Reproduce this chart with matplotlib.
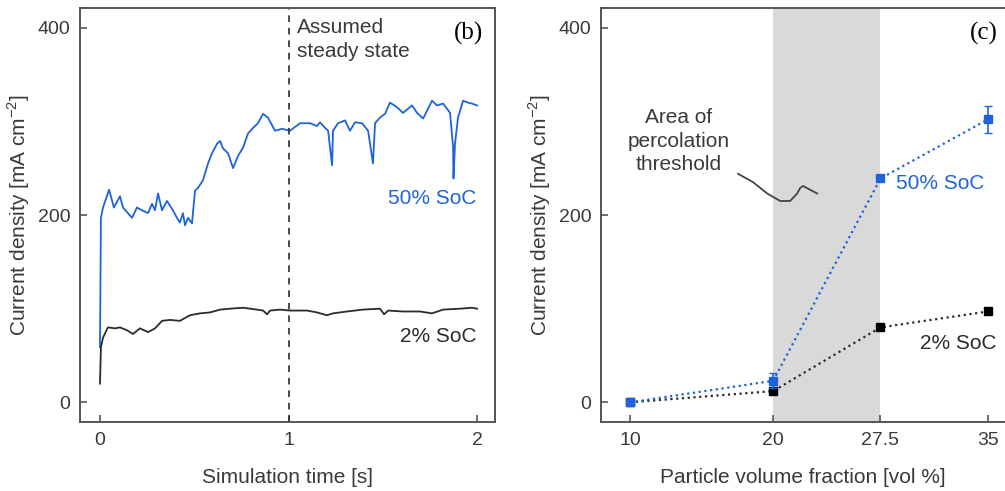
import matplotlib
matplotlib.use("Agg")
import matplotlib.pyplot as plt

plt.rcParams['font.family'] = ['Liberation Sans', 'DejaVu Sans']

# ---- panel (b): current density vs simulation time ----
t_50 = [0.0, 0.005, 0.016, 0.048, 0.074, 0.106, 0.122, 0.170, 0.196, 0.223, 0.255,
        0.276, 0.292, 0.308, 0.329, 0.355, 0.371, 0.387, 0.408, 0.424, 0.440,
        0.451, 0.467, 0.488, 0.504, 0.520, 0.546, 0.573, 0.594, 0.621, 0.637,
        0.653, 0.679, 0.706, 0.732, 0.759, 0.785, 0.812, 0.838, 0.865, 0.891,
        0.928, 0.966, 1.008, 1.061, 1.114, 1.151, 1.167, 1.194, 1.210, 1.231,
        1.236, 1.263, 1.300, 1.326, 1.353, 1.390, 1.422, 1.448, 1.459, 1.485,
        1.512, 1.538, 1.576, 1.607, 1.655, 1.682, 1.714, 1.761, 1.788, 1.820,
        1.857, 1.873, 1.875, 1.883, 1.899, 1.926, 1.952, 1.973, 2.000]
j_50 = [59, 197, 208, 227, 208, 220, 208, 197, 208, 205, 202,
        212, 205, 223, 205, 215, 210, 205, 197, 192, 202,
        189, 197, 191, 226, 229, 237, 255, 266, 276, 279,
        271, 266, 250, 263, 272, 287, 293, 298, 308, 304,
        290, 292, 290, 298, 298, 295, 299, 293, 290, 253,
        290, 298, 301, 290, 299, 298, 290, 255, 298, 304,
        308, 320, 315, 309, 317, 309, 303, 322, 317, 319,
        309, 272, 239, 276, 304, 322, 320, 319, 317]

t_2 = [0.0, 0.005, 0.016, 0.042, 0.080, 0.106, 0.143, 0.175, 0.212, 0.255,
       0.292, 0.329, 0.371, 0.424, 0.477, 0.531, 0.584, 0.637, 0.690, 0.759,
       0.833, 0.865, 0.886, 0.902, 0.955, 1.008, 1.098, 1.151, 1.204, 1.236,
       1.310, 1.395, 1.485, 1.507, 1.528, 1.607, 1.698, 1.761, 1.820, 1.910,
       1.973, 2.000]
j_2 = [20, 59, 69, 80, 79, 80, 77, 73, 79, 75,
       79, 87, 88, 87, 93, 95, 96, 99, 100, 101,
       99, 98, 94, 98, 99, 98, 98, 96, 93, 95,
       97, 99, 100, 94, 98, 97, 97, 95, 99, 100,
       101, 100]

steady_state_t = 1.0

# ---- panel (c): current density vs particle volume fraction ----
vol_frac = [10, 20, 27.5, 35]
vol_ticks = ['10', '20', '27.5', '35']
j_soc50 = [0, 23, 239, 302]
err_soc50 = [2, 8, 3, 14]
j_soc2 = [0, 12, 80, 97]
percolation_band = (20, 27.5)

# squiggle pointing from the label into the shaded band
squig_x = [17.55, 18.6, 19.58, 20.49, 21.19, 21.68, 21.89, 22.1, 22.45, 23.08]
squig_y = [244, 235, 223, 215, 215, 223, 229, 231, 228, 223]

BLUE = '#1f63dc'
BLACK = '#2b2b2b'
TEXT = '#3a3a3a'
SPINE = '#555555'
FS = 15

fig = plt.figure(figsize=(10.05, 4.91), dpi=100)
ax1 = fig.add_axes([0.0796, 0.1405, 0.4129, 0.8432])
ax2 = fig.add_axes([0.598, 0.1405, 0.402, 0.8432])

ylabel = 'Current density [mA cm$^{\\mathregular{-2}}$]'

for ax in (ax1, ax2):
    ax.set_ylim(-21, 421)
    ax.set_yticks([0, 200, 400])
    for s in ax.spines.values():
        s.set_color(SPINE)
        s.set_linewidth(1.4)
    ax.tick_params(direction='in', length=5, width=1.2, color=SPINE,
                   labelsize=14, labelcolor=TEXT, pad=7)
    ax.tick_params(axis='x', pad=7)
    ax.set_ylabel(ylabel, fontsize=FS, color=TEXT, labelpad=4)

# panel (b)
ax1.set_xlim(-0.106, 2.095)
ax1.set_xticks([0, 1, 2])
ax1.plot(t_50, j_50, color=BLUE, lw=1.3)
ax1.plot(t_2, j_2, color=BLACK, lw=1.3)
ax1.axvline(steady_state_t, color=BLACK, lw=1.2, ls=(0, (4, 3.5)))
ax1.set_xlabel('Simulation time [s]', fontsize=FS, color=TEXT, labelpad=14)
ax1.text(1.045, 410, 'Assumed\nsteady state', fontsize=FS, color=TEXT,
         va='top', ha='left', linespacing=1.3)
ax1.text(2.032, 406, '(b)', family=['Liberation Serif'], fontsize=18,
         color='black', ha='right', va='top')
ax1.text(1.995, 218, '50% SoC', fontsize=FS, color=BLUE, ha='right', va='center')
ax1.text(1.995, 70, '2% SoC', fontsize=FS, color=BLACK, ha='right', va='center')

# panel (c)
ax2.set_xlim(7.97, 36.2)
ax2.set_xticks(vol_frac)
ax2.set_xticklabels(vol_ticks)
ax2.spines['right'].set_visible(False)
ax2.axvspan(*percolation_band, color='#d9d9d9', lw=0, zorder=0)
ax2.plot(vol_frac, j_soc2, color=BLACK, lw=1.6, ls=(0, (1, 1.6)),
         marker='s', ms=6, mfc='black', mec='black', zorder=3)
ax2.errorbar(vol_frac, j_soc50, yerr=err_soc50, color=BLUE, lw=1.6,
             ls=(0, (1, 1.6)), marker='s', ms=6, mfc=BLUE, mec=BLUE,
             ecolor=BLUE, elinewidth=1.2, capsize=3, zorder=4)
ax2.set_xlabel('Particle volume fraction [vol %]', fontsize=FS, color=TEXT,
               labelpad=14)
ax2.text(13.4, 314, 'Area of\npercolation\nthreshold', fontsize=FS,
         color=TEXT, ha='center', va='top', linespacing=1.3)
ax2.plot(squig_x, squig_y, color='#444444', lw=1.3)
ax2.text(35.66, 406, '(c)', family=['Liberation Serif'], fontsize=18,
         color='black', ha='right', va='top')
ax2.text(28.6, 234, '50% SoC', fontsize=FS, color=BLUE, ha='left', va='center')
ax2.text(35.6, 63, '2% SoC', fontsize=FS, color=BLACK, ha='right', va='center')

fig.savefig('out.png', dpi=100)
